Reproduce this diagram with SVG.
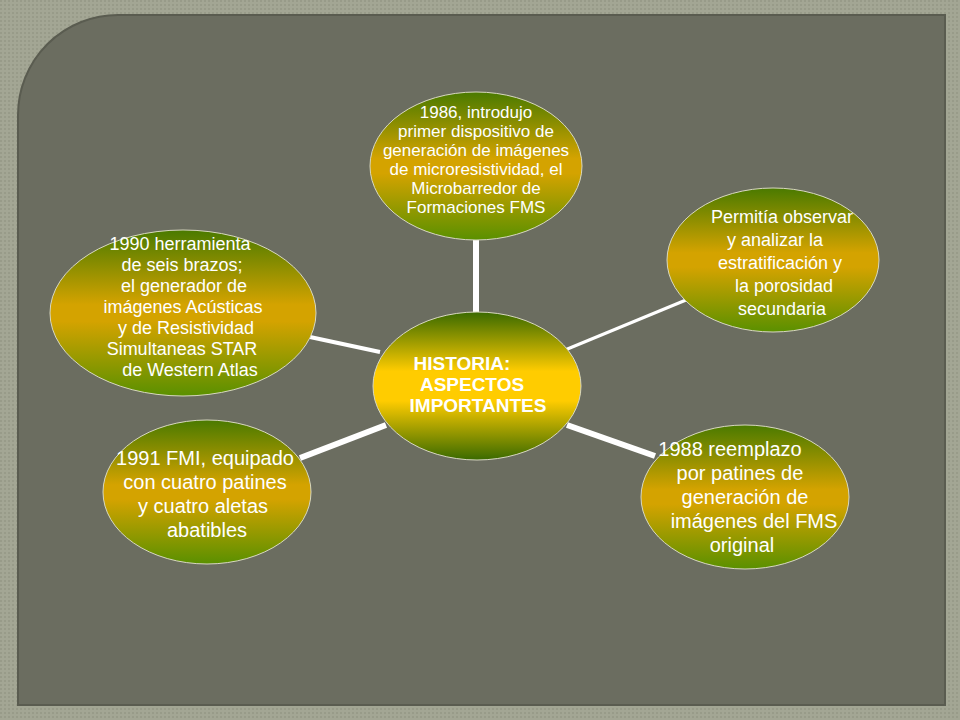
<svg xmlns="http://www.w3.org/2000/svg" width="960" height="720" viewBox="0 0 960 720">
<defs>
<linearGradient id="g" x1="0" y1="0" x2="0" y2="1">
<stop offset="0" stop-color="#4a7a00"/><stop offset="0.45" stop-color="#d4a300"/><stop offset="0.55" stop-color="#d4a300"/><stop offset="1" stop-color="#5a9000"/>
</linearGradient>
<linearGradient id="gc" x1="0" y1="0" x2="0" y2="1">
<stop offset="0" stop-color="#3a6a00"/><stop offset="0.4" stop-color="#ffcc00"/><stop offset="0.6" stop-color="#ffcc00"/><stop offset="1" stop-color="#3a6a00"/>
</linearGradient>
<pattern id="p" width="4" height="4" patternUnits="userSpaceOnUse"><rect width="4" height="4" fill="#a3a694"/><rect width="2" height="2" fill="#989b89"/></pattern>
</defs>
<style>
.o{fill:url(#g);stroke:#d8d8c0;stroke-width:1}
.t{font-family:"Liberation Sans",Arial,sans-serif;fill:#ffffff;text-anchor:middle}
.c line{stroke:#ffffff}
</style>
<rect width="960" height="720" fill="url(#p)"/>
<path d="M118 15 H945 V705 H18 V115 A100 100 0 0 1 118 15 Z" fill="#6b6d60" stroke="#5a5c50" stroke-width="2"/>
<g class="c">
<line x1="476" y1="240" x2="476" y2="313" stroke-width="6"/>
<line x1="565" y1="350" x2="686" y2="300" stroke-width="3"/>
<line x1="567" y1="425" x2="655" y2="456" stroke-width="6"/>
<line x1="386" y1="425" x2="300" y2="458" stroke-width="6"/>
<line x1="310" y1="337" x2="380" y2="352" stroke-width="4"/>
</g>
<g id="top"><ellipse class="o" cx="476" cy="166" rx="106" ry="74"/>
<text class="t" y="118" style="font-size:17px"><tspan x="476">1986, introdujo</tspan><tspan x="476" dy="19">primer dispositivo de</tspan><tspan x="476" dy="19">generación de imágenes</tspan><tspan x="476" dy="19">de microresistividad, el</tspan><tspan x="476" dy="19">Microbarredor de</tspan><tspan x="476" dy="19">Formaciones FMS</tspan></text></g>
<g id="right"><ellipse class="o" cx="773" cy="260" rx="106" ry="72"/>
<text class="t" y="223" style="font-size:18px"><tspan x="782">Permitía observar</tspan><tspan x="775" dy="23">y analizar la</tspan><tspan x="780" dy="23">estratificación y</tspan><tspan x="784" dy="23">la porosidad</tspan><tspan x="782" dy="23">secundaria</tspan></text></g>
<g id="rightbottom"><ellipse class="o" cx="745" cy="497" rx="104" ry="72"/>
<text class="t" y="456" style="font-size:20px"><tspan x="730">1988 reemplazo</tspan><tspan x="740" dy="24">por patines de</tspan><tspan x="745" dy="24">generación de</tspan><tspan x="754" dy="24">imágenes del FMS</tspan><tspan x="742" dy="24">original</tspan></text></g>
<g id="leftbottom"><ellipse class="o" cx="207" cy="492" rx="104" ry="72"/>
<text class="t" y="465" style="font-size:20px"><tspan x="205">1991 FMI, equipado</tspan><tspan x="205" dy="24">con cuatro patines</tspan><tspan x="203" dy="24">y cuatro aletas</tspan><tspan x="207" dy="24">abatibles</tspan></text></g>
<g id="left"><ellipse class="o" cx="183" cy="313" rx="133" ry="83"/>
<text class="t" y="250" style="font-size:18px"><tspan x="180">1990 herramienta</tspan><tspan x="182" dy="21">de seis brazos;</tspan><tspan x="184" dy="21">el generador de</tspan><tspan x="183" dy="21">imágenes Acústicas</tspan><tspan x="186" dy="21">y de Resistividad</tspan><tspan x="182" dy="21">Simultaneas STAR</tspan><tspan x="190" dy="21">de Western Atlas</tspan></text></g>
<g id="center"><ellipse cx="477" cy="386" rx="104" ry="74" fill="url(#gc)" stroke="#d8d8c0"/>
<text class="t" y="370" style="font-size:19px;font-weight:bold"><tspan x="462">HISTORIA:</tspan><tspan x="472" dy="21">ASPECTOS</tspan><tspan x="478" dy="21">IMPORTANTES</tspan></text></g>
</svg>
